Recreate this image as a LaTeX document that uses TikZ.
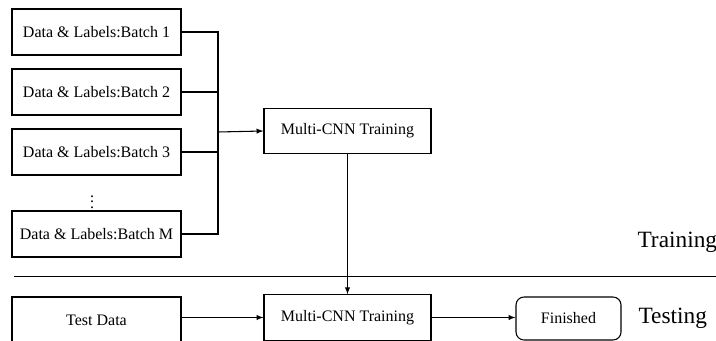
\documentclass[tikz,border=0pt]{standalone}
\usepackage{fontspec}
\setmainfont{Liberation Serif}
\usetikzlibrary{positioning}

\newcommand*{\busx}{218}
\newcommand*{\sepy}{276}

\begin{document}
\begin{tikzpicture}
[
	x=0.75pt,y=-0.75pt,
	>=latex,
	line width=0.8pt,
	databox/.style={rectangle,draw,minimum width=126.75pt,minimum height=34.5pt,inner sep=0pt,font=\fontsize{12}{14}\selectfont},
	cnnbox/.style={rectangle,draw,minimum width=125.25pt,minimum height=34pt,inner sep=0pt,font=\fontsize{12}{14}\selectfont},
	endbox/.style={rectangle,rounded corners=6pt,draw,minimum width=78.75pt,minimum height=32.25pt,inner sep=0pt,font=\fontsize{12}{14}\selectfont},
	phase/.style={anchor=base west,inner sep=0pt,font=\fontsize{17.5}{20}\selectfont}
]
	\useasboundingbox (0,0) rectangle (716,341);

	% training batches
	\node[databox] (b1) at (96.5,32) {Data \& Labels:Batch 1};
	\node[databox] (b2) at (96.5,92) {Data \& Labels:Batch 2};
	\node[databox] (b3) at (96.5,152) {Data \& Labels:Batch 3};
	\node[inner sep=0pt,font=\fontsize{12}{14}\selectfont\boldmath] (dots) at (92,198) {$\vdots$};
	\node[databox] (bM) at (96.5,234) {Data \& Labels:Batch M};

	\coordinate (bus) at (\busx,132);

	\node[cnnbox] (train) at (347.5,131) {Multi-CNN Training};

	\draw (b1.east) -| (bus);
	\draw (b2.east) -| (bus);
	\draw (b3.east) -| (bus);
	\draw (bM.east) -| (bus);
	\draw[->] (bus) -- (train.west);

	\node[phase] (lbltrain) at (637,248) {Training};

	% separator
	\draw[line width=0.7pt] (14,\sepy) -- (716,\sepy);

	% testing
	\node[databox] (testdata) at (96.5,320) {Test Data};
	\node[cnnbox] (test) at (347.5,317.5) {Multi-CNN Training};
	\node[endbox] (done) at (568.5,318.5) {Finished};

	\draw[->] (train.south) -- (test.north);
	\draw[->] (testdata.east |- test.west) -- (test.west);
	\draw[->] (test.east) -- (done.west |- test.east);

	\node[phase] (lbltest) at (638,324) {Testing};

\end{tikzpicture}
\end{document}
